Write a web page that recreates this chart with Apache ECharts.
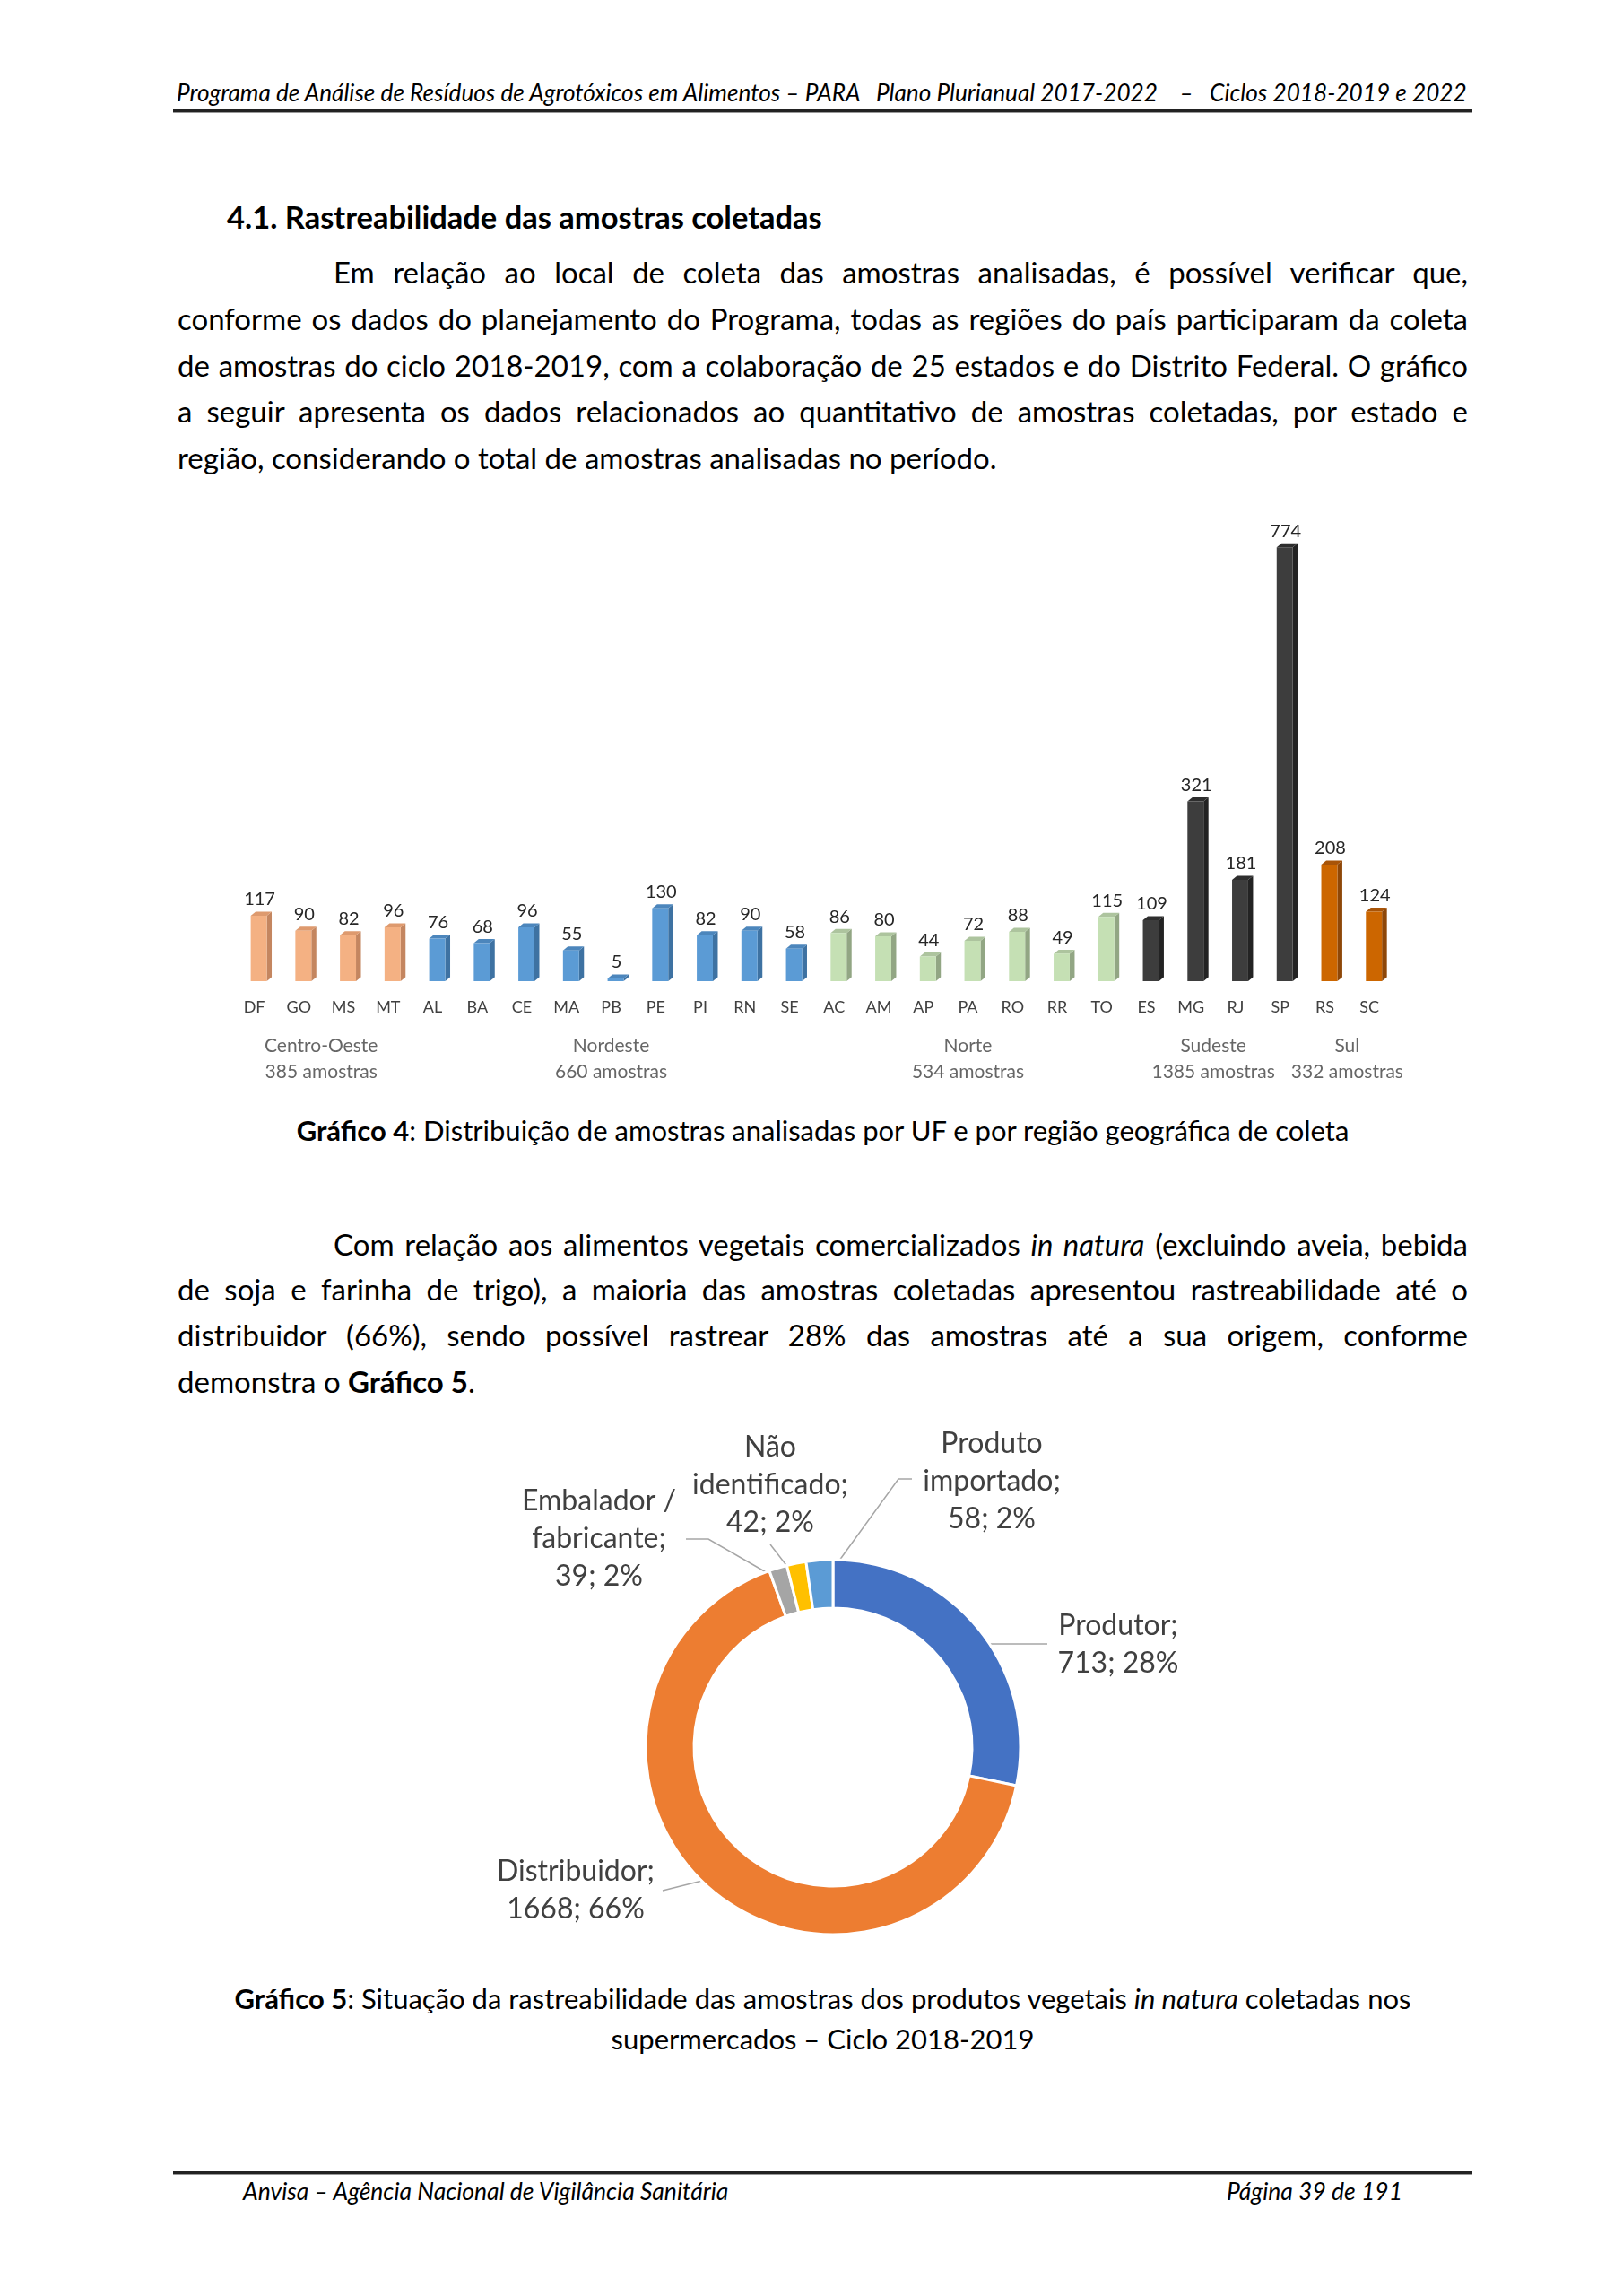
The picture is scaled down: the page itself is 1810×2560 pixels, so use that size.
<!DOCTYPE html>
<html><head><meta charset="utf-8">
<script src="https://cdn.jsdelivr.net/npm/echarts@6/dist/echarts.min.js"></script>
<style>
html,body{margin:0;padding:0;background:#fff;}
#page{position:relative;width:1810px;height:2560px;font-family:Lato,'Open Sans',sans-serif;color:#000;overflow:hidden;}
.ln{position:absolute;white-space:nowrap;font-size:33px;line-height:44px;}
.cap{font-size:31px;}
.j{left:198px;width:1439px;text-align:justify;text-align-last:justify;}
.ji{left:372px;width:1265px;text-align:justify;text-align-last:justify;}
.l{left:198px;}
.c{left:198px;width:1439px;text-align:center;}
.rule{position:absolute;left:193px;width:1449px;height:3px;background:#222;border-bottom:1px solid #999;}
.hdr{position:absolute;font-style:italic;font-size:26px;line-height:32px;white-space:nowrap;}
#chart{position:absolute;left:0;top:0;width:1810px;height:2560px;}
</style></head>
<body><div id="page">
<div class="hdr" style="left:197px;top:87px;font-size:26.2px;">Programa de Análise de Resíduos de Agrotóxicos em Alimentos – PARA&nbsp;&nbsp;&nbsp;Plano Plurianual 2017-2022&nbsp;&nbsp;&nbsp;&nbsp;–&nbsp;&nbsp;&nbsp;Ciclos 2018-2019 e 2022</div>
<div class="rule" style="top:122px;"></div>
<div class="ln" style="left:253px;top:220px;font-weight:bold;font-size:34.5px;">4.1. Rastreabilidade das amostras coletadas</div>
<div class="ln ji" style="top:281px;">Em relação ao local de coleta das amostras analisadas, é possível verificar que,</div>
<div class="ln j" style="top:333px;">conforme os dados do planejamento do Programa, todas as regiões do país participaram da coleta</div>
<div class="ln j" style="top:385px;">de amostras do ciclo 2018-2019, com a colaboração de 25 estados e do Distrito Federal. O gráfico</div>
<div class="ln j" style="top:436px;">a seguir apresenta os dados relacionados ao quantitativo de amostras coletadas, por estado e</div>
<div class="ln l" style="top:488px;">região, considerando o total de amostras analisadas no período.</div>
<div class="ln c cap" style="top:1238px;"><b>Gráfico 4</b>: Distribuição de amostras analisadas por UF e por região geográfica de coleta</div>
<div class="ln ji" style="top:1365px;">Com relação aos alimentos vegetais comercializados <i>in natura</i> (excluindo aveia, bebida</div>
<div class="ln j" style="top:1415px;">de soja e farinha de trigo), a maioria das amostras coletadas apresentou rastreabilidade até o</div>
<div class="ln j" style="top:1466px;">distribuidor (66%), sendo possível rastrear 28% das amostras até a sua origem, conforme</div>
<div class="ln l" style="top:1518px;">demonstra o <b>Gráfico 5</b>.</div>
<div class="ln c cap" style="top:2206px;"><b>Gráfico 5</b>: Situação da rastreabilidade das amostras dos produtos vegetais <i>in natura</i> coletadas nos</div>
<div class="ln c cap" style="top:2251px;">supermercados – Ciclo 2018-2019</div>
<div class="rule" style="top:2421px;"></div>
<div class="hdr" style="left:271px;top:2427px;font-size:26.5px;">Anvisa – Agência Nacional de Vigilância Sanitária</div>
<div class="hdr" style="right:246px;top:2427px;font-size:26.5px;">Página 39 de 191</div>
<div id="chart"></div>
</div>
<script>
// ---- Gráfico 4 data ----
const states = ['DF','GO','MS','MT','AL','BA','CE','MA','PB','PE','PI','RN','SE','AC','AM','AP','PA','RO','RR','TO','ES','MG','RJ','SP','RS','SC'];
const samples = [117,90,82,96,76,68,96,55,5,130,82,90,58,86,80,44,72,88,49,115,109,321,181,774,208,124];
const regions = ['Centro-Oeste','Nordeste','Norte','Sudeste','Sul'];
const regionTotals = [385,660,534,1385,332];
const regionSizes = [4,9,7,4,2];

// ---- Gráfico 5 data ----
const traceNames = ['Produtor','Distribuidor','Embalador /\nfabricante','Não\nidentificado','Produto\nimportado'];
const traceValues = [713,1668,39,42,58];

// ---- styles ----
const regionFront = ['#F4B183','#5B9BD5','#C5E0B4','#3D3D3D','#CC6600'];
const regionSide  = ['#C48660','#3E72A2','#92A684','#232323','#8E4708'];
const regionTop   = ['#DE9A6E','#4C86BC','#ADC49E','#2E2E2E','#A85408'];
const sliceColors = ['#4472C4','#ED7D31','#A5A5A5','#FFC000','#5B9BD5'];
const pieLabelPos = [[1247,1834],[642,2108],[668,1716],[859,1656],[1106,1652]];
const pieLeaders = [
  [[1076,1833],[1120,1833],[1168,1833]],
  [[811,2090],[775,2099],[739,2108]],
  [[870,1762],[790,1716],[765,1716]],
  [[893,1766],[876,1744],[859,1722]],
  [[920,1762],[1002,1649],[1017,1649]]
];

const regionOf = [];
const regionCenters = [];
let start = 0;
regionSizes.forEach((n, k) => {
  for (let i = 0; i < n; i++) regionOf.push(k);
  regionCenters.push(start + (n - 1) / 2);
  start += n;
});

function renderBar(params, api) {
  const i = api.value(0), v = api.value(1), r = regionOf[i];
  const b = api.coord([i, 0]), t = api.coord([i, v]);
  const band = api.size([1, 0])[0];
  const w = band * 0.36, d = 5.5, dy = 4.5, off = 5;
  const x0 = b[0] + off - w / 2, x1 = x0 + w;
  const yb = b[1], yt = t[1];
  return {type: 'group', children: [
    {type: 'polygon', shape: {points: [[x1, yt], [x1 + d, yt - dy], [x1 + d, yb - dy], [x1, yb]]}, style: {fill: regionSide[r]}},
    {type: 'polygon', shape: {points: [[x0, yt], [x0 + d, yt - dy], [x1 + d, yt - dy], [x1, yt]]}, style: {fill: regionTop[r]}},
    {type: 'rect', shape: {x: x0, y: yt, width: w, height: yb - yt}, style: {fill: regionFront[r]}},
    {type: 'text', style: {text: String(v), x: (x0 + x1) / 2 + 1, y: yt - 8, align: 'center', verticalAlign: 'bottom', fill: '#262626', font: '20px Lato, sans-serif'}}
  ]};
}

const chart = echarts.init(document.getElementById('chart'), null, {renderer: 'canvas'});
chart.setOption({
  animation: false,
  backgroundColor: 'transparent',
  grid: {left: 258.7, width: 1293.4, top: 594, height: 500},
  xAxis: [
    {type: 'category', data: states, gridIndex: 0, axisLine: {show: false}, axisTick: {show: false},
     axisLabel: {margin: 20, fontSize: 18, color: '#404040', fontFamily: 'Lato, sans-serif'}},
    {type: 'value', gridIndex: 0, min: -0.5, max: 25.5, show: false}
  ],
  yAxis: [{type: 'value', min: 0, max: 800, show: false, splitLine: {show: false}}],
  series: [
    {type: 'custom', xAxisIndex: 0, yAxisIndex: 0, clip: false, renderItem: renderBar,
     encode: {x: 0, y: 1}, data: samples.map((v, i) => [i, v])},
    {type: 'scatter', xAxisIndex: 1, yAxisIndex: 0, symbolSize: 1, itemStyle: {color: 'transparent'},
     data: regions.map((r, k) => ({name: r, value: [regionCenters[k], 0]})),
     label: {show: true, position: 'bottom', distance: 57, lineHeight: 29, fontSize: 21, color: '#404040',
       fontFamily: 'Lato, sans-serif', align: 'center',
       formatter: p => p.name + '\n' + regionTotals[p.dataIndex] + ' amostras'},
     emphasis: {disabled: true}},
    {type: 'pie', center: [929, 1948], radius: [155, 209], startAngle: 90, clockwise: true,
     percentPrecision: 0, avoidLabelOverlap: false,
     itemStyle: {borderColor: '#fff', borderWidth: 3},
     label: {show: true, formatter: '{b};\n{c}; {d}%', fontSize: 32, lineHeight: 42, color: '#404040',
       fontFamily: 'Lato, sans-serif', align: 'center'},
     labelLine: {show: true, lineStyle: {color: '#A6A6A6', width: 1.5}},
     labelLayout: p => ({x: pieLabelPos[p.dataIndex][0], y: pieLabelPos[p.dataIndex][1], align: 'center',
       verticalAlign: 'middle', labelLinePoints: pieLeaders[p.dataIndex]}),
     emphasis: {disabled: true},
     data: traceNames.map((n, i) => ({name: n, value: traceValues[i], itemStyle: {color: sliceColors[i]}}))}
  ]
});
</script>
</body></html>
